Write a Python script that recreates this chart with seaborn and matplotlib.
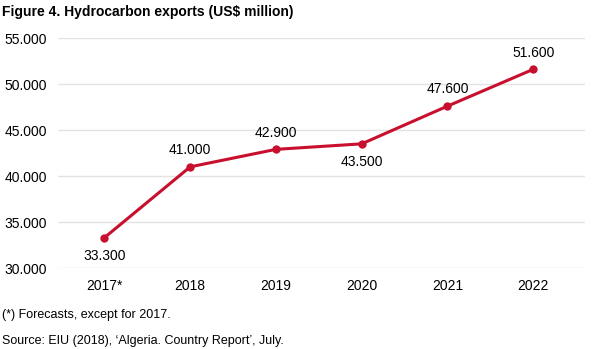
import matplotlib
matplotlib.use("Agg")
import matplotlib.pyplot as plt
import seaborn as sns
import pandas as pd

years = ["2017*", "2018", "2019", "2020", "2021", "2022"]
values = [33300, 41000, 42900, 43500, 47600, 51600]
label_pos = ["below", "above", "above", "below", "above", "above"]
yticks = [30000, 35000, 40000, 45000, 50000, 55000]

sns.set_theme(style="white")
plt.rcParams['font.family'] = ['Liberation Sans', 'DejaVu Sans']

df = pd.DataFrame({"year": years, "value": values})

fig = plt.figure(figsize=(5.93, 3.49), dpi=100)
ax = fig.add_axes([0.098, 0.232, 0.888, 0.659])
color = "#C8102E"
sns.lineplot(data=df, x="year", y="value", ax=ax, color=color, linewidth=2.2,
             marker="o", markersize=6, markeredgewidth=0, sort=False)

def fmt(v):
    return f"{v:,}".replace(",", ".")

for i, (v, p) in enumerate(zip(values, label_pos)):
    if p == "above":
        ax.annotate(fmt(v), (i, v), xytext=(0, 7), textcoords="offset points",
                    ha="center", va="bottom", fontsize=10, color="#000000")
    else:
        ax.annotate(fmt(v), (i, v), xytext=(0, -8), textcoords="offset points",
                    ha="center", va="top", fontsize=10, color="#000000")

ax.set_ylim(30000, 55000)
ax.set_xlim(-0.54, 5.6)
ax.set_yticks(yticks)
ax.set_yticklabels([fmt(t) for t in yticks], fontsize=10, color="#000000")
ax.tick_params(axis="x", labelsize=10, colors="#000000", length=0, pad=8)
ax.tick_params(axis="y", length=0, pad=8)
ax.yaxis.grid(True, color="#E3E3E3", linewidth=1)
ax.set_axisbelow(True)
for s in ax.spines.values():
    s.set_visible(False)
ax.set_xlabel("")
ax.set_ylabel("")

fig.text(0.003, 0.965, "Figure 4. Hydrocarbon exports (US$ million)", fontsize=10,
         fontweight="bold", ha="left", va="center", color="#000000")
fig.text(0.003, 0.097, "(*) Forecasts, except for 2017.", fontsize=9, ha="left",
         va="center", color="#000000")
fig.text(0.003, 0.022, "Source: EIU (2018), \u2018Algeria. Country Report\u2019, July.",
         fontsize=9, ha="left", va="center", color="#000000")

fig.savefig("out.png", dpi=100)
